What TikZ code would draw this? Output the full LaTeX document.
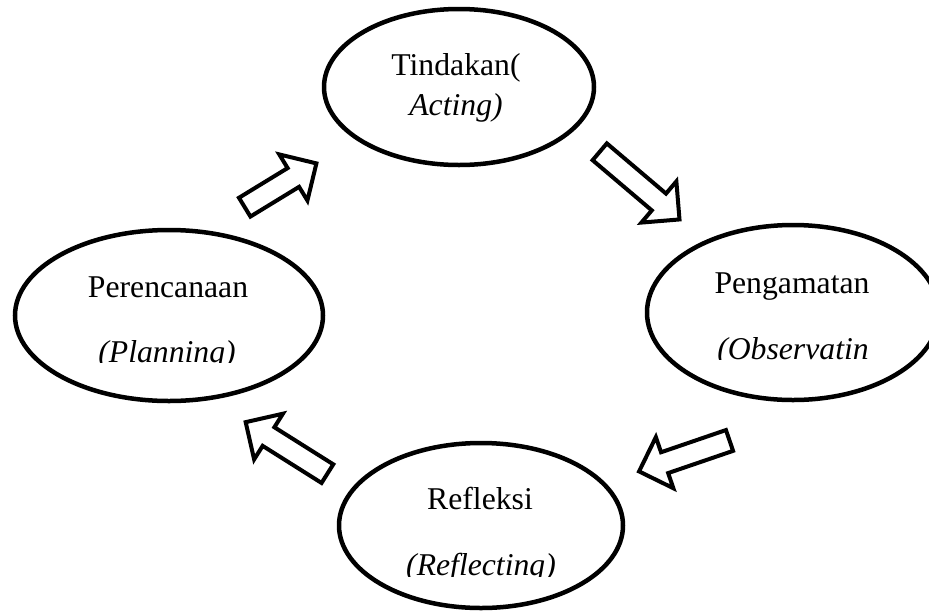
\documentclass[tikz,border=0pt]{standalone}
\usepackage{fontspec}
\setmainfont{Liberation Serif}
\usetikzlibrary{shapes.geometric,shapes.arrows}
\begin{document}
\begin{tikzpicture}[x=1pt,y=-1pt,
  stage/.style={ellipse, draw, line width=4.5pt, inner sep=0pt},
  lbl/.style={inner sep=0pt, anchor=base, font=\fontsize{31.7}{38}\selectfont},
  barrow/.style={single arrow, draw, line width=4pt, inner xsep=0pt, inner ysep=9pt,
    single arrow head extend=16pt,
    single arrow tip angle=90, anchor=tail}]
\clip (0,0) rectangle (929,611);
% ellipses
\node[stage, minimum width=270pt, minimum height=156pt] (act) at (459,87) {};
\node[stage, minimum width=308pt, minimum height=171pt] (plan) at (169,315.5) {};
\node[stage, minimum width=292pt, minimum height=175pt] (obs) at (793,312.5) {};
\node[stage, minimum width=284pt, minimum height=165pt] (refl) at (481,525.5) {};
% texts
\node[lbl] (actA) at (456,75) {Tindakan(};
\node[lbl] (actB) at (456,115) {\itshape Acting)};
\node[lbl] (planA) at (168,297) {Perencanaan};
\node[lbl] (obsA) at (792,293) {Pengamatan};
\node[lbl] (reflA) at (480,509) {Refleksi};
\begin{scope}
  \clip (0,0) rectangle (929,362.5);
  \node[lbl] (planB) at (167,362) {\itshape (Planning)};
\end{scope}
\begin{scope}
  \clip (0,0) rectangle (929,359.5);
  \node[lbl] (obsB) at (793,359) {\itshape (Observatin};
\end{scope}
\begin{scope}
  \clip (0,0) rectangle (929,576);
  \node[lbl] (reflB) at (481,575.5) {\itshape (Reflecting)};
\end{scope}
% block arrows
\node[barrow, rotate=31.4, minimum height=84pt] (a1) at (243,208.2) {};
\node[barrow, rotate=-40.3, minimum height=104.6pt] (a2) at (598.2,150.5) {};
\node[barrow, rotate=198.9, minimum height=95.6pt] (a3) at (731.4,439.8) {};
\node[barrow, rotate=147.8, minimum height=96.6pt] (a4) at (329.1,474.7) {};
\end{tikzpicture}
\end{document}
